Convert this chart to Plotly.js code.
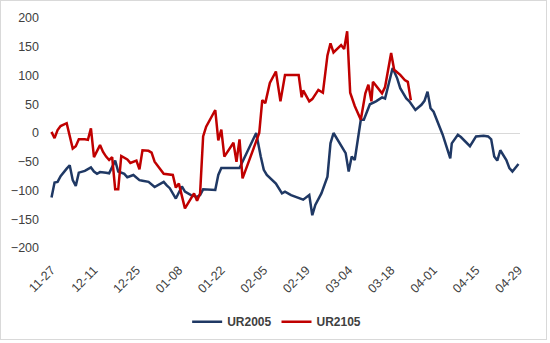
<!DOCTYPE html>
<html>
<head>
<meta charset="utf-8">
<script src="https://cdn.plot.ly/plotly-3.0.1.min.js"></script>
<style>
html,body{margin:0;padding:0;background:#fff;}
#wrap{position:relative;width:550px;height:343px;}
#chart{width:550px;height:343px;}
#frame{position:absolute;left:0;top:0;width:547px;height:340px;border:1px solid #d9d9d9;pointer-events:none;box-sizing:border-box;}
</style>
</head>
<body>
<div id="wrap"><div id="chart"></div><div id="frame"></div></div>
<script>
const seriesNames = ['UR2005', 'UR2105'];

const ur2005Dates = ['2019-11-27','2019-11-28','2019-11-29','2019-11-30','2019-12-02','2019-12-03','2019-12-04','2019-12-05','2019-12-06','2019-12-08',
'2019-12-10','2019-12-11','2019-12-12','2019-12-13','2019-12-15','2019-12-16','2019-12-18','2019-12-19','2019-12-21','2019-12-22',
'2019-12-24','2019-12-26','2019-12-27','2019-12-29','2019-12-31','2020-01-01','2020-01-03','2020-01-04','2020-01-05','2020-01-07',
'2020-01-09','2020-01-10','2020-01-12','2020-01-14','2020-01-15','2020-01-16','2020-01-18','2020-01-20','2020-01-21','2020-01-22',
'2020-01-28','2020-02-02 12:00','2020-02-04','2020-02-05','2020-02-06','2020-02-09','2020-02-11','2020-02-12','2020-02-14','2020-02-17',
'2020-02-18','2020-02-20','2020-02-21','2020-02-22','2020-02-24','2020-02-26','2020-02-27','2020-02-28','2020-03-01','2020-03-03',
'2020-03-04','2020-03-05','2020-03-06','2020-03-07','2020-03-08','2020-03-09','2020-03-11','2020-03-13','2020-03-15','2020-03-16',
'2020-03-17','2020-03-18 12:00','2020-03-20','2020-03-21','2020-03-23','2020-03-24','2020-03-26','2020-03-28','2020-03-29','2020-03-30',
'2020-03-31','2020-04-01','2020-04-04','2020-04-06 12:00','2020-04-07','2020-04-09','2020-04-10','2020-04-13','2020-04-15','2020-04-17 12:00',
'2020-04-19','2020-04-20','2020-04-21','2020-04-22','2020-04-23','2020-04-25','2020-04-26','2020-04-27','2020-04-29'];
const ur2005Values = [-112,-86,-85,-75,-62,-56,-82,-92,-69,-66,
-60,-67,-71,-68,-69,-70,-48,-67,-71,-77,
-73,-82,-83,-85,-94,-91,-85,-91,-96,-114,
-93,-102,-108,-111,-108,-98,-98,-99,-73,-61,
-61,0,-41,-64,-73,-88,-105,-102,-108,-114,
-116,-108,-143,-125,-105,-76,-18,0,-18,-35,
-67,-41,-47,-12,23,23,50,55,62,60,
81,113,95,78,60,55,40,49,56,72,
43,37,-3,-44,-18,-3,-7,-23,-6,-5,
-6,-11,-41,-48,-30,-47,-61,-67,-54];

const ur2105Dates = ['2019-11-27','2019-11-28','2019-11-29','2019-11-30','2019-12-02','2019-12-04','2019-12-05','2019-12-06','2019-12-08','2019-12-09',
'2019-12-10','2019-12-11','2019-12-13','2019-12-14','2019-12-15','2019-12-16','2019-12-17','2019-12-18','2019-12-19','2019-12-20',
'2019-12-22','2019-12-23','2019-12-25','2019-12-26','2019-12-27','2019-12-29','2019-12-30','2019-12-31','2020-01-01','2020-01-03',
'2020-01-06','2020-01-07','2020-01-08','2020-01-10','2020-01-13','2020-01-14','2020-01-15','2020-01-16','2020-01-17','2020-01-20',
'2020-01-21','2020-01-22','2020-01-23','2020-01-26','2020-01-27','2020-01-28','2020-01-29','2020-02-03 12:00','2020-02-04 12:00','2020-02-05 12:00',
'2020-02-07','2020-02-09','2020-02-10 12:00','2020-02-12','2020-02-16 12:00','2020-02-17 12:00','2020-02-18','2020-02-20','2020-02-21','2020-02-23',
'2020-02-24 12:00','2020-02-26','2020-02-27','2020-02-28','2020-03-01 12:00','2020-03-02 12:00','2020-03-03 12:00','2020-03-04 12:00','2020-03-06','2020-03-08',
'2020-03-09 12:00','2020-03-10 12:00','2020-03-11 12:00','2020-03-12','2020-03-15','2020-03-16','2020-03-18','2020-03-19','2020-03-21','2020-03-22 12:00',
'2020-03-23 12:00','2020-03-24 12:00'];
const ur2105Values = [2,-9,5,12,17,-27,-23,-11,-11,-12,
8,-42,-21,-33,-41,-47,-42,-98,-98,-40,
-46,-52,-48,-63,-30,-31,-34,-50,-57,-71,
-73,-95,-88,-131,-105,-118,-105,-6,11,40,
-13,6,-41,-17,-50,-11,-79,0,57,52,
87,107,55,101,101,62,74,55,59,75,
70,135,156,140,153,146,177,70,47,23,
69,84,55,89,69,80,139,110,101,92,
89,57];

const yTickValues = [-200,-150,-100,-50,0,50,100,150,200];

const traces = [
  {x: ur2005Dates, y: ur2005Values, name: seriesNames[0], type: 'scatter', mode: 'lines',
   line: {color: '#1f3864', width: 2.5}},
  {x: ur2105Dates, y: ur2105Values, name: seriesNames[1], type: 'scatter', mode: 'lines',
   line: {color: '#c00000', width: 2.5}}
];

const layout = {
  width: 550, height: 343,
  margin: {l: 50, r: 30, t: 18, b: 95, pad: 0, autoexpand: false},
  paper_bgcolor: '#ffffff', plot_bgcolor: '#ffffff',
  font: {family: '"Liberation Sans", Arial, sans-serif', size: 12, color: '#404040'},
  showlegend: true,
  legend: {orientation: 'h', xref: 'container', yref: 'container', x: 0.503, xanchor: 'center', y: 0.062, yanchor: 'middle',
           font: {family: '"Liberation Sans", Arial, sans-serif', size: 12, color: '#404040', weight: 'bold'},
           bgcolor: 'rgba(0,0,0,0)'},
  xaxis: {type: 'date', range: ['2019-11-26 12:00', '2020-04-29 12:00'], automargin: false,
          tick0: '2019-11-27', dtick: 14 * 86400000, tickformat: '%m-%d', tickangle: -45,
          showgrid: false, zeroline: false, showline: false,
          ticks: 'outside', ticklen: 9, tickcolor: 'rgba(0,0,0,0)',
          tickfont: {size: 12.5, color: '#404040'}},
  yaxis: {range: [-200, 200], tickvals: yTickValues, showgrid: false, automargin: false,
          zeroline: true, zerolinecolor: '#d9d9d9', zerolinewidth: 1,
          showline: false, ticks: '', ticklabelstandoff: 10,
          tickfont: {size: 12.5, color: '#404040'}}
};

Plotly.newPlot('chart', traces, layout, {displayModeBar: false, staticPlot: true});
</script>
</body>
</html>
